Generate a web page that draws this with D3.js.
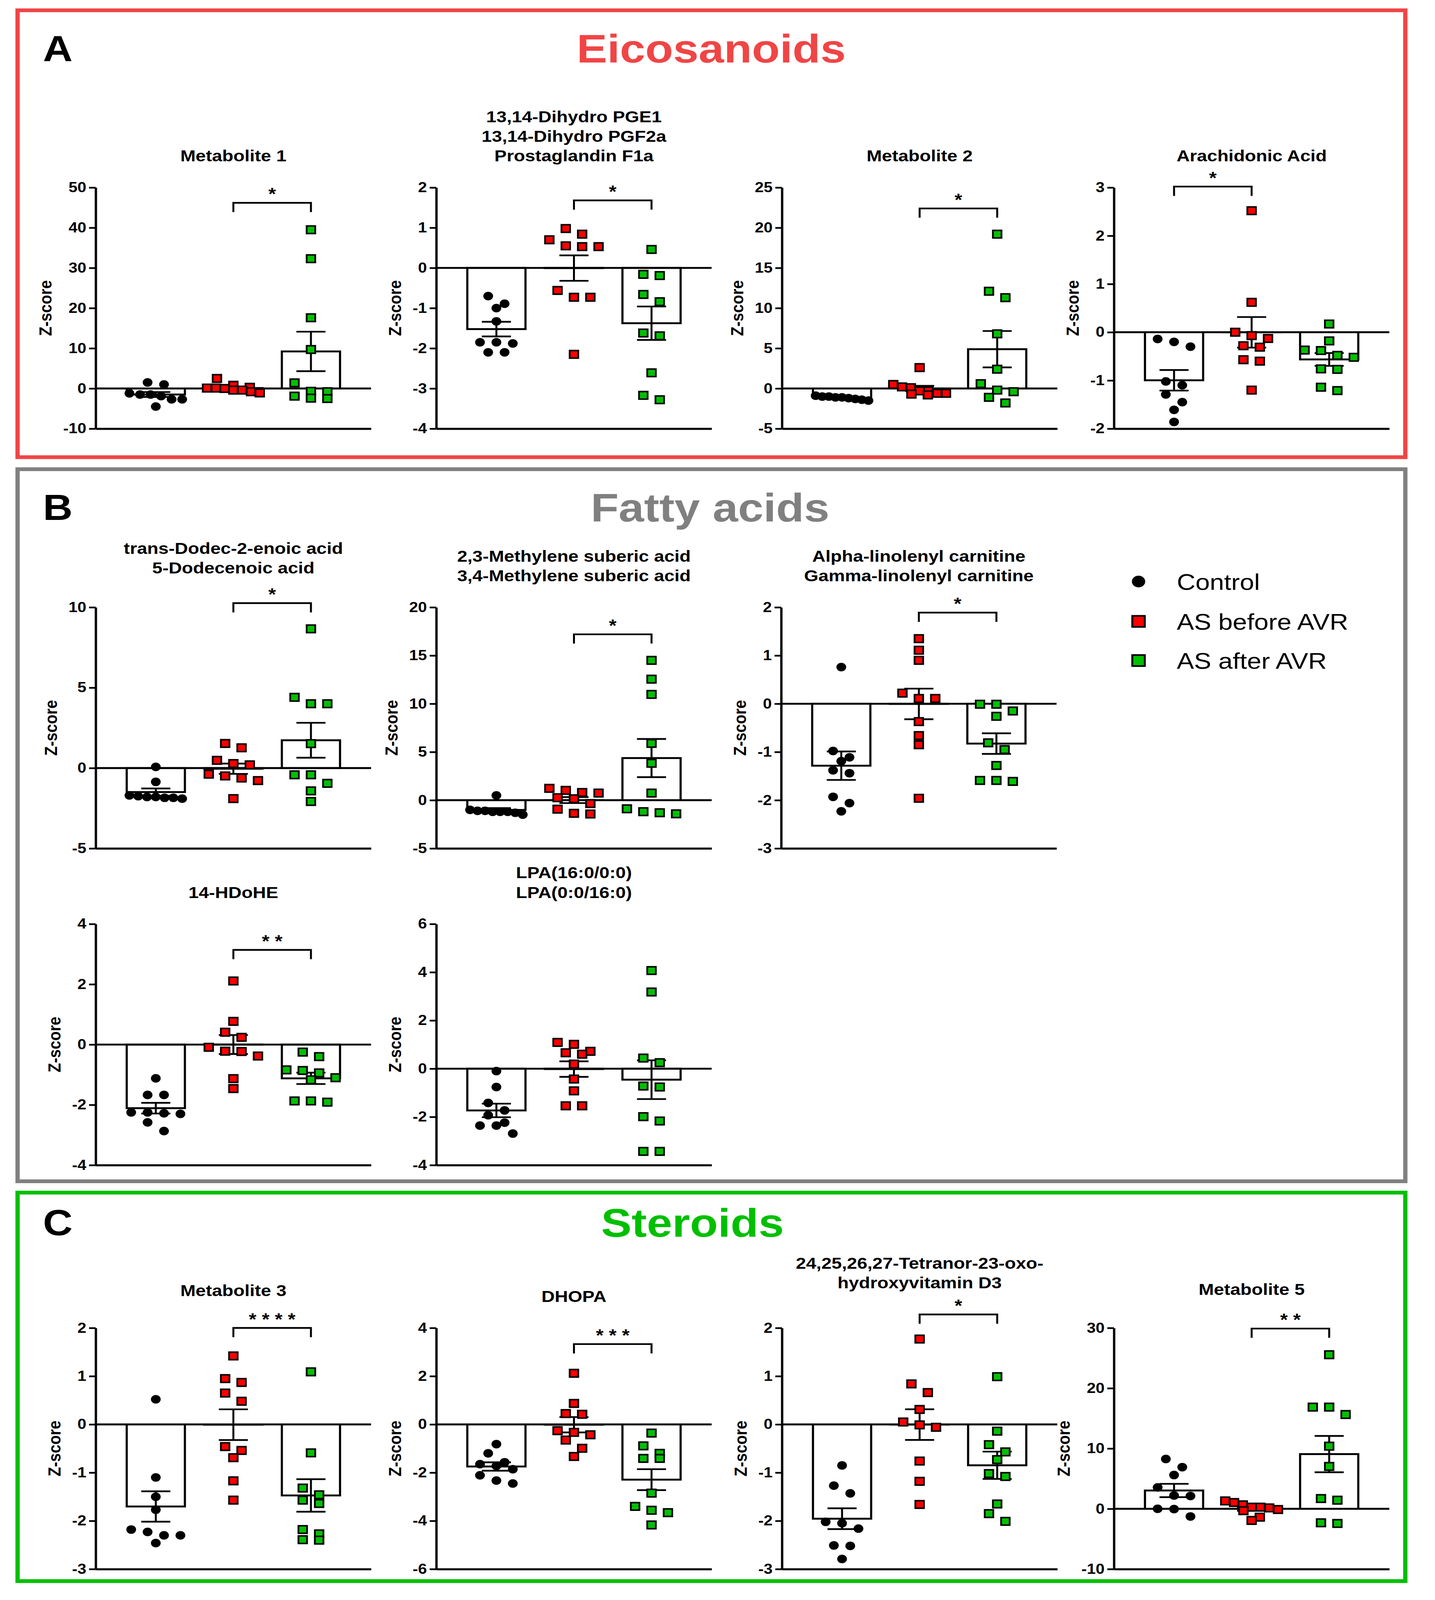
<!DOCTYPE html>
<html>
<head>
<meta charset="utf-8">
<script src="https://cdn.jsdelivr.net/npm/d3@7"></script>
<style>
  html, body { margin: 0; background: #fff; overflow: hidden; }
  svg { display: block; }
  text { font-family: 'Liberation Sans', Arial, sans-serif; }
</style>
</head>
<body>
<svg id="fig"></svg>
<script>
const groups = ['Control', 'AS before AVR', 'AS after AVR']

const sectionLetters = ['A', 'B', 'C']
const sectionNames = ['Eicosanoids', 'Fatty acids', 'Steroids']

const titles = [
  ['Metabolite 1'],
  ['13,14-Dihydro PGE1', '13,14-Dihydro PGF2a', 'Prostaglandin F1a'],
  ['Metabolite 2'],
  ['Arachidonic Acid'],
  ['trans-Dodec-2-enoic acid', '5-Dodecenoic acid'],
  ['2,3-Methylene suberic acid', '3,4-Methylene suberic acid'],
  ['Alpha-linolenyl carnitine', 'Gamma-linolenyl carnitine'],
  ['14-HDoHE'],
  ['LPA(16:0/0:0)', 'LPA(0:0/16:0)'],
  ['Metabolite 3'],
  ['DHOPA'],
  ['24,25,26,27-Tetranor-23-oxo-', 'hydroxyvitamin D3'],
  ['Metabolite 5']
]

// z-scores per group: [Control, AS before AVR, AS after AVR]
const metabolite1 = [
  [-1.9, -1.5, -4.5, 1.5, -1.5, 1.0, -2.7, -2.7, -1.2],
  [-0.4, 0.8, 0.1, 0.3, -1.1, 0.1, -0.4, 2.5, -0.8, 0.0],
  [39.5, 32.3, 17.6, 9.7, 1.4, -0.7, -0.8, -2.4, -1.9, -2.5]
]
const dihydroPG = [
  [-0.89, -0.70, -1.00, -1.33, -1.85, -1.85, -1.88, -2.10, -2.10],
  [0.84, 0.98, 0.70, 0.53, 0.53, 0.55, -0.56, -0.73, -0.73, -2.15],
  [0.46, -0.19, -0.16, -0.66, -0.84, -1.62, -1.69, -2.61, -3.28, -3.17]
]
const metabolite2 = [
  [-1.3, -0.9, -1.1, -1.0, -1.5, -1.2, -1.4, -1.0, -1.1],
  [0.5, -0.6, 0.2, -0.3, 0.1, 2.6, -0.8, -0.3, -0.7, -0.6],
  [19.2, 12.1, 11.3, 6.8, 2.4, 0.6, -0.2, -0.4, -1.1, -1.8]
]
const arachidonic = [
  [-0.14, -0.30, -0.20, -1.10, -1.02, -1.29, -1.45, -1.61, -1.86],
  [2.52, 0.62, 0.0, -0.13, -0.07, -0.31, -0.28, -0.57, -0.60, -1.20],
  [0.17, -0.18, -0.37, -0.38, -0.52, -0.48, -0.77, -0.76, -1.14, -1.21]
]
const dodecenoic = [
  [0.07, -0.86, -1.75, -1.7, -1.85, -1.8, -1.9, -1.85, -1.8],
  [1.26, 1.53, 0.48, 0.2, 0.28, -0.38, -0.62, -0.49, -0.78, -1.90],
  [8.66, 4.40, 4.0, 4.0, 1.52, -0.42, -0.42, -0.95, -1.42, -2.08]
]
const methyleneSuberic = [
  [0.5, -1.1, -1.2, -1.0, -1.3, -1.5, -1.2, -1.1, -1.2],
  [0.74, -0.35, -1.36, 0.80, 1.02, 0.15, -1.43, 1.23, 0.26, -0.93],
  [14.5, 12.55, 10.97, 5.89, 3.83, 0.74, -1.41, -0.89, -1.30, -1.19]
]
const linolenylCarnitine = [
  [0.76, -0.98, -1.11, -1.19, -1.38, -1.44, -1.93, -2.06, -2.23],
  [1.35, 1.11, 0.90, 0.22, 0.11, 0.11, -0.37, -0.66, -0.85, -1.96],
  [-0.01, -0.01, -0.15, -0.26, -0.81, -0.95, -1.28, -1.61, -1.59, -1.59]
]
const hdohe = [
  [-1.12, -1.67, -1.67, -2.25, -2.30, -2.25, -2.28, -2.58, -2.87],
  [2.11, 0.77, 0.41, 0.24, -0.09, -0.22, -0.23, -0.38, -1.13, -1.46],
  [-0.25, -0.40, -0.84, -0.94, -0.86, -1.10, -1.17, -1.91, -1.87, -1.87]
]
const lpa = [
  [-0.10, -0.76, -1.42, -1.73, -1.93, -2.24, -2.36, -2.36, -2.69],
  [1.09, 0.72, 1.01, 0.60, 0.66, 0.19, -0.43, -0.92, -1.54, -1.54],
  [4.07, 3.18, 0.44, 0.25, -0.76, -0.72, -1.99, -2.17, -3.43, -3.43]
]
const metabolite3 = [
  [0.52, -1.10, -1.50, -1.77, -2.23, -2.18, -2.30, -2.30, -2.46],
  [1.42, 0.87, 0.95, 0.65, 0.48, -0.46, -0.54, -0.69, -1.17, -1.57],
  [1.09, -0.59, -1.32, -1.57, -1.46, -1.64, -2.18, -2.39, -2.27, -2.40]
]
const dhopa = [
  [-0.82, -1.20, -1.65, -1.57, -1.86, -1.72, -2.11, -2.33, -2.45],
  [2.12, 0.87, 0.42, 0.45, -0.33, -0.26, -0.43, -0.65, -0.99, -1.33],
  [-0.36, -0.89, -1.20, -1.41, -1.41, -2.85, -3.40, -3.56, -3.66, -4.17]
]
const tetranor = [
  [-0.85, -1.27, -1.43, -2.05, -2.02, -2.16, -2.51, -2.52, -2.79],
  [1.77, 0.84, 0.66, 0.31, 0.05, -0.06, -0.01, -0.76, -1.18, -1.66],
  [0.99, -0.14, -0.42, -0.57, -0.73, -1.02, -1.08, -1.65, -1.85, -2.01]
]
const metabolite5 = [
  [8.26, 6.91, 5.60, 3.55, 2.12, 2.20, 0, -0.04, -1.27],
  [0.27, 0.66, 1.04, 0.27, 1.31, 0.15, -0.31, -0.12, -1.93, -1.39],
  [25.56, 16.87, 16.87, 15.64, 10.39, 7.03, 1.43, 1.70, -2.43, -2.32]
]

const yDomains = [[-10, 50], [-4, 2], [-5, 25], [-2, 3], [-5, 10], [-5, 20], [-3, 2],
  [-4, 4], [-4, 6], [-3, 2], [-6, 4], [-3, 2], [-10, 30]]
const yTickSteps = [10, 1, 5, 1, 5, 5, 1, 2, 2, 1, 2, 1, 10]

// significance: [from group, to group, bracket level (z), stars]
const brackets = [
  [1, 2, 46.2, '*'], [1, 2, 1.68, '*'], [1, 2, 22.4, '*'], [0, 1, 3.02, '*'],
  [1, 2, 10.26, '*'], [1, 2, 17.2, '*'], [1, 2, 1.89, '*'],
  [1, 2, 3.14, '**'], null,
  [1, 2, 2.0, '****'], [1, 2, 3.33, '***'], [1, 2, 2.28, '*'], [1, 2, 29.9, '**']
]

const panelData = [metabolite1, dihydroPG, metabolite2, arachidonic,
  dodecenoic, methyleneSuberic, linolenylCarnitine, hdohe, lpa,
  metabolite3, dhopa, tetranor, metabolite5]

// ---- layout (pixels, in the 3674 x 4658 figure space) ----
const W = 3674, H = 4658
const plotW = 705, plotH = 702
const panelX = [245, 1117, 2002, 2852, 245, 1117, 2000, 245, 1117, 245, 1117, 2002, 2852]
const panelTop = [546, 546, 546, 546, 1768, 1768, 1768, 2690, 2690, 3866, 3866, 3866, 3866]
const titleBottom = [453, 453, 453, 453, 1653, 1675, 1675, 2597, 2597, 3756, 3773, 3734, 3753]
const boxes = [[45, 30, 3598, 1331], [45, 1366, 3598, 3439], [45, 3472, 3598, 4603]]
const boxColors = ['#f04545', '#808080', '#00bf00']
const headerY = [140, 1476, 3558]
const headerX = [1821, 1818, 1773]

const fillColors = ['#000000', '#ff0000', '#00c000']
const markerSize = 26
const fmt = d => d3.format('d')(d).replace('\u2212', '-')

// the window is clamped to 4096 px high, so the figure is fitted to it
const vw = window.innerWidth || W, vh = window.innerHeight || H
const svg = d3.select('#fig')
  .attr('width', vw).attr('height', Math.min(vh, H))
  .attr('viewBox', '0 0 ' + W + ' ' + H)
  .attr('preserveAspectRatio', 'none')
svg.append('rect').attr('width', W).attr('height', H).attr('fill', '#fff')

// section frames and headers
boxes.forEach((b, i) => {
  svg.append('rect')
    .attr('x', b[0]).attr('y', b[1])
    .attr('width', b[2] - b[0]).attr('height', b[3] - b[1])
    .attr('fill', 'none')
    .attr('stroke', boxColors[i])
    .attr('stroke-width', 11)
  svg.append('text')
    .attr('x', 110).attr('y', headerY[i])
    .attr('dy', '0.36em')
    .style('font-size', '105px').style('font-weight', 'bold')
    .text(sectionLetters[i])
  svg.append('text')
    .attr('x', headerX[i]).attr('y', headerY[i])
    .attr('dy', '0.36em')
    .attr('text-anchor', 'middle')
    .style('font-size', '117px').style('font-weight', 'bold')
    .attr('fill', boxColors[i])
    .text(sectionNames[i])
})

function swarm(vals, y) {
  let pts = vals.map(v => ({ v: v, py: y(v) })).sort((a, b) => a.py - b.py)
  let rows = []
  pts.forEach(p => {
    let row = rows[rows.length - 1]
    if (row && p.py - row[0].py < markerSize) row.push(p)
    else rows.push([p])
  })
  rows.forEach(row => {
    let step = row.length > 1 ? Math.min(42, 135 / (row.length - 1)) : 0
    row.forEach((p, i) => { p.dx = (i - (row.length - 1) / 2) * step })
  })
  return pts
}

panelData.forEach((data, k) => {
  let g = svg.append('g')
    .attr('transform', 'translate(' + panelX[k] + ',' + panelTop[k] + ')')

  let x = d3.scaleBand().domain(groups).range([0, plotW]).paddingInner(0.25).paddingOuter(0.4)
  let y = d3.scaleLinear().domain(yDomains[k]).range([plotH, 0])
  let bw = x.bandwidth()

  let stats = data.map((vals, i) => {
    let m = d3.mean(vals)
    let sem = d3.deviation(vals) / Math.sqrt(vals.length)
    return { group: groups[i], mean: m, sem: sem }
  })

  // bars
  g.selectAll('.bar')
    .data(stats)
    .enter().append('rect')
    .attr('class', 'bar')
    .attr('x', d => x(d.group))
    .attr('width', bw)
    .attr('y', d => Math.min(y(d.mean), y(0)))
    .attr('height', d => Math.abs(y(d.mean) - y(0)))
    .attr('fill', '#fff')
    .attr('stroke', '#000')
    .attr('stroke-width', 5.5)

  // zero line
  g.append('line')
    .attr('x1', 0).attr('x2', plotW)
    .attr('y1', y(0)).attr('y2', y(0))
    .attr('stroke', '#000').attr('stroke-width', 5.5)

  // error bars (mean +- SEM)
  let err = g.selectAll('.err').data(stats).enter().append('g').attr('class', 'err')
    .attr('stroke', '#000').attr('stroke-width', 5)
  err.append('line')
    .attr('x1', d => x(d.group) + bw / 2).attr('x2', d => x(d.group) + bw / 2)
    .attr('y1', d => y(d.mean - d.sem)).attr('y2', d => y(d.mean + d.sem))
  err.append('line')
    .attr('x1', d => x(d.group) + bw / 4).attr('x2', d => x(d.group) + bw * 3 / 4)
    .attr('y1', d => y(d.mean + d.sem)).attr('y2', d => y(d.mean + d.sem))
  err.append('line')
    .attr('x1', d => x(d.group) + bw / 4).attr('x2', d => x(d.group) + bw * 3 / 4)
    .attr('y1', d => y(d.mean - d.sem)).attr('y2', d => y(d.mean - d.sem))

  // points
  data.forEach((vals, i) => {
    let cx = x(groups[i]) + bw / 2
    let pts = swarm(vals, y)
    if (i === 0) {
      g.selectAll('.dot' + i).data(pts).enter().append('circle')
        .attr('cx', d => cx + d.dx).attr('cy', d => d.py)
        .attr('r', 12.5).attr('fill', '#000')
    } else {
      g.selectAll('.sq' + i).data(pts).enter().append('rect')
        .attr('x', d => cx + d.dx - markerSize / 2 + 2)
        .attr('y', d => d.py - markerSize / 2 + 2)
        .attr('width', markerSize - 4).attr('height', markerSize - 4)
        .attr('fill', fillColors[i])
        .attr('stroke', '#000').attr('stroke-width', 4.5)
    }
  })

  // y axis
  let ticks = d3.range(yDomains[k][0], yDomains[k][1] + yTickSteps[k] / 2, yTickSteps[k])
  let yAxis = g.append('g')
    .call(d3.axisLeft(y).tickValues(ticks).tickFormat(fmt)
      .tickSize(17).tickSizeOuter(0).tickPadding(7))
  yAxis.select('.domain').attr('stroke-width', 6)
  yAxis.selectAll('.tick line').attr('stroke-width', 5)
  yAxis.selectAll('.tick text')
    .style('font-size', '41px').style('font-weight', 'bold')
    .style('font-family', "'Liberation Sans', Arial, sans-serif")
    .attr('fill', '#000')

  // x axis
  let xAxis = g.append('g')
    .attr('transform', 'translate(0,' + plotH + ')')
    .call(d3.axisBottom(x).tickSize(0).tickSizeOuter(0).tickFormat(''))
  xAxis.select('.domain').attr('stroke-width', 6)

  // y label
  let bb = yAxis.node().getBBox()
  g.append('text')
    .attr('transform', 'translate(' + (bb.x - 46) + ',' + plotH / 2 + ') rotate(-90)')
    .attr('text-anchor', 'middle')
    .attr('dy', '0.36em')
    .style('font-size', '45px').style('font-weight', 'bold')
    .text('Z-score')

  // title
  let lines = titles[k]
  g.append('g').selectAll('text')
    .data(lines)
    .enter().append('text')
    .attr('x', plotW / 2)
    .attr('y', (d, i) => titleBottom[k] - panelTop[k] - (lines.length - 1 - i) * 57)
    .attr('dy', '0.36em')
    .attr('text-anchor', 'middle')
    .style('font-size', '47px').style('font-weight', 'bold')
    .text(d => d)

  // significance bracket
  let br = brackets[k]
  if (br) {
    let x1 = x(groups[br[0]]) + bw / 2
    let x2 = x(groups[br[1]]) + bw / 2
    let by = y(br[2])
    g.append('path')
      .attr('d', 'M' + x1 + ',' + (by + 27) + 'V' + by + 'H' + x2 + 'V' + (by + 27))
      .attr('fill', 'none').attr('stroke', '#000').attr('stroke-width', 5)
    g.append('text')
      .attr('x', (x1 + x2) / 2).attr('y', by - 8)
      .attr('text-anchor', 'middle')
      .style('font-size', '50px').style('font-weight', 'bold')
      .text(br[3].split('').join(' '))
  }
})

// legend
const legendY = [1693, 1809, 1923]
let legend = svg.append('g').attr('class', 'legend')
groups.forEach((name, i) => {
  if (i === 0) {
    legend.append('circle').attr('cx', 2915).attr('cy', legendY[i]).attr('r', 17).attr('fill', '#000')
  } else {
    legend.append('rect')
      .attr('x', 2915 - 16).attr('y', legendY[i] - 16)
      .attr('width', 32).attr('height', 32)
      .attr('fill', fillColors[i]).attr('stroke', '#000').attr('stroke-width', 5)
  }
  legend.append('text')
    .attr('x', 3013).attr('y', legendY[i])
    .attr('dy', '0.36em')
    .style('font-size', '66px')
    .text(name)
})
</script>
</body>
</html>
